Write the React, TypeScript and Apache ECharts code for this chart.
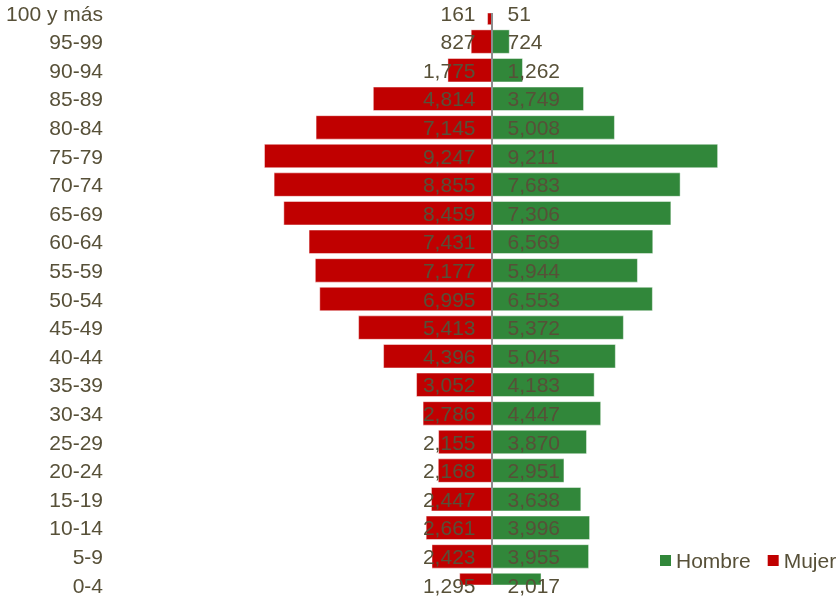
import React, { useEffect, useRef } from "react";
import * as echarts from "echarts";

const categories = [
  "100 y más", "95-99", "90-94", "85-89", "80-84", "75-79", "70-74", "65-69",
  "60-64", "55-59", "50-54", "45-49", "40-44", "35-39", "30-34", "25-29",
  "20-24", "15-19", "10-14", "5-9", "0-4",
];

const mujer = [
  161, 827, 1775, 4814, 7145, 9247, 8855, 8459, 7431, 7177, 6995, 5413, 4396,
  3052, 2786, 2155, 2168, 2447, 2661, 2423, 1295,
];

const hombre = [
  51, 724, 1262, 3749, 5008, 9211, 7683, 7306, 6569, 5944, 6553, 5372, 5045,
  4183, 4447, 3870, 2951, 3638, 3996, 3955, 2017,
];

const TEXT = "#575038";
const RED = "#C00000";
const GREEN = "#31873A";
const FONT = "'Liberation Sans', Arial, sans-serif";

const fmt = (v: number) => Math.abs(v).toLocaleString("en-US");

const makeRender = (color: string, side: "left" | "right") => (params: any, api: any) => {
  const cat = api.value(0);
  const val = api.value(1);
  const p0 = api.coord([0, cat]);
  const p1 = api.coord([val, cat]);
  const cs = params.coordSys;
  const band = api.size([0, 1])[1] || cs.height / (categories.length - 1);
  const h = band * 0.82;
  const y0 = Math.max(p0[1] - h / 2, cs.y);
  const y1 = Math.min(p0[1] + h / 2, cs.y + cs.height);
  const x = Math.min(p0[0], p1[0]);
  const w = Math.abs(p1[0] - p0[0]);
  return {
    type: "group",
    children: [
      {
        type: "rect",
        shape: { x, y: y0, width: w, height: y1 - y0 },
        style: { fill: color, stroke: "rgba(255,255,255,0.45)", lineWidth: 1 },
      },
      {
        type: "text",
        x: side === "left" ? p0[0] - 16 : p0[0] + 16,
        y: p0[1],
        z2: 10,
        style: {
          text: fmt(val),
          fill: TEXT,
          fontSize: 21,
          fontFamily: FONT,
          align: side === "left" ? "right" : "left",
          verticalAlign: "middle",
        },
      },
    ],
  };
};

export default function App() {
  const ref = useRef<HTMLDivElement>(null);
  useEffect(() => {
    document.body.style.margin = "0";
    if (!ref.current) return;
    const chart = echarts.init(ref.current, undefined, { renderer: "svg" });
    chart.setOption({
      animation: false,
      textStyle: { fontFamily: FONT },
      legend: {
        data: ["Hombre", "Mujer"],
        left: 660,
        top: 550,
        width: 400,
        padding: 0,
        itemWidth: 11,
        itemHeight: 11,
        itemGap: 17,
        icon: "rect",
        textStyle: { color: TEXT, fontSize: 21, fontFamily: FONT },
      },
      grid: { left: 246, right: 99, top: 13, bottom: 11, containLabel: false },
      xAxis: {
        type: "value",
        min: -10000,
        max: 10000,
        show: false,
      },
      yAxis: {
        type: "category",
        data: categories,
        inverse: true,
        boundaryGap: false,
        axisLine: { show: false },
        axisTick: { show: false },
        splitLine: { show: false },
        axisLabel: {
          margin: 143,
          color: TEXT,
          fontSize: 21,
          fontFamily: FONT,
        },
      },
      series: [
        {
          name: "Mujer",
          type: "custom",
          itemStyle: { color: RED },
          encode: { x: 1, y: 0 },
          renderItem: makeRender(RED, "left"),
          data: mujer.map((v, i) => [i, -v]),
        },
        {
          name: "Hombre",
          type: "custom",
          itemStyle: { color: GREEN },
          encode: { x: 1, y: 0 },
          renderItem: makeRender(GREEN, "right"),
          data: hombre.map((v, i) => [i, v]),
          markLine: {
            silent: true,
            symbol: "none",
            label: { show: false },
            lineStyle: { color: "#8C8C8C", width: 2, type: "solid" },
            data: [{ xAxis: 0 }],
          },
        },
      ],
    });
    return () => chart.dispose();
  }, []);
  return (
    <div
      ref={ref}
      style={{ position: "fixed", left: 0, top: 0, width: 836, height: 596 }}
    />
  );
}
